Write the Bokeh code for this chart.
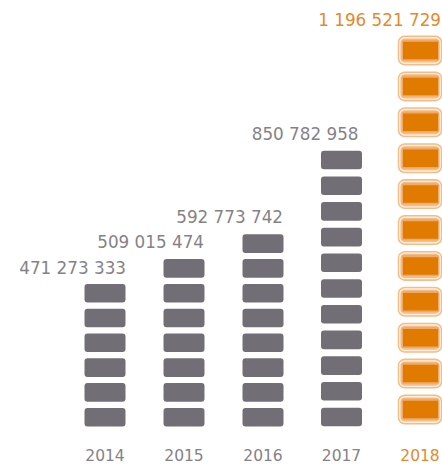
from bokeh.plotting import figure
from bokeh.models import ColumnDataSource
from bokeh.core.properties import value
from bokeh.embed import file_html
from bokeh.resources import INLINE

years = ["2014", "2015", "2016", "2017", "2018"]
value_labels = ["471 273 333", "509 015 474", "592 773 742", "850 782 958", "1 196 521 729"]
block_counts = [6, 7, 8, 11, 11]

GRAY = "#716e75"
TEXT_GRAY = "#858287"
ORANGE = "#e07b00"
ORANGE_TEXT = "#e38a2b"
PALE = "#f2bd88"

col_x = [104.5, 183.5, 262.5, 341, 419.5]
pitch = [24.8, 24.8, 24.8, 25.7, 35.9]
base = [416.7, 416.7, 416.7, 416.5, 409]

p = figure(width=442, height=469, x_range=(0, 442), y_range=(469, 0),
           toolbar_location=None, output_backend="svg", min_border=0,
           outline_line_color=None, background_fill_color="white",
           border_fill_color="white")
p.axis.visible = False
p.grid.visible = False

gx, gy, ox, oy = [], [], [], []
for i, n in enumerate(block_counts):
    ys = [base[i] - k * pitch[i] for k in range(n)]
    if years[i] == "2018":
        ox += [col_x[i]] * n
        oy += ys
    else:
        gx += [col_x[i]] * n
        gy += ys

p.rect(gx, gy, width=41, height=18.6, fill_color=GRAY, line_color=None, border_radius=3)

# hand-sketched orange blocks: pale halo, white scratches, solid core
p.rect(ox, oy, width=44.5, height=30, fill_color=PALE, line_color=None, border_radius=7)
p.rect(ox, oy, width=40.5, height=25.5, fill_color=None, line_color="#fdf0e3", line_width=1.4, border_radius=5)
p.rect([x + 0.5 for x in ox], [y - 0.3 for y in oy], width=37.5, height=21,
       fill_color="#f0aa68", line_color=None, border_radius=2)
p.rect([x + 0.5 for x in ox], oy, width=35, height=17.5, fill_color=ORANGE, line_color=None)

label_right = [125.5, 203.5, 282.5, 358, 440.5]
label_y = [267, 241.5, 216, 133, 19]
colors = [TEXT_GRAY] * 4 + [ORANGE_TEXT]

src = ColumnDataSource(dict(x=label_right, y=label_y, t=value_labels, c=colors))
p.text(x="x", y="y", text="t", text_color="c", source=src, text_align="right",
       text_baseline="middle", text_font=value("DejaVu Sans"), text_font_size="16.8px",
       text_font_style="normal")

ysrc = ColumnDataSource(dict(x=col_x, y=[454] * 5, t=years, c=colors))
p.text(x="x", y="y", text="t", text_color="c", source=ysrc, text_align="center",
       text_baseline="middle", text_font=value("DejaVu Sans"), text_font_size="15.5px")

open("out.html", "w").write(file_html(p, INLINE))
